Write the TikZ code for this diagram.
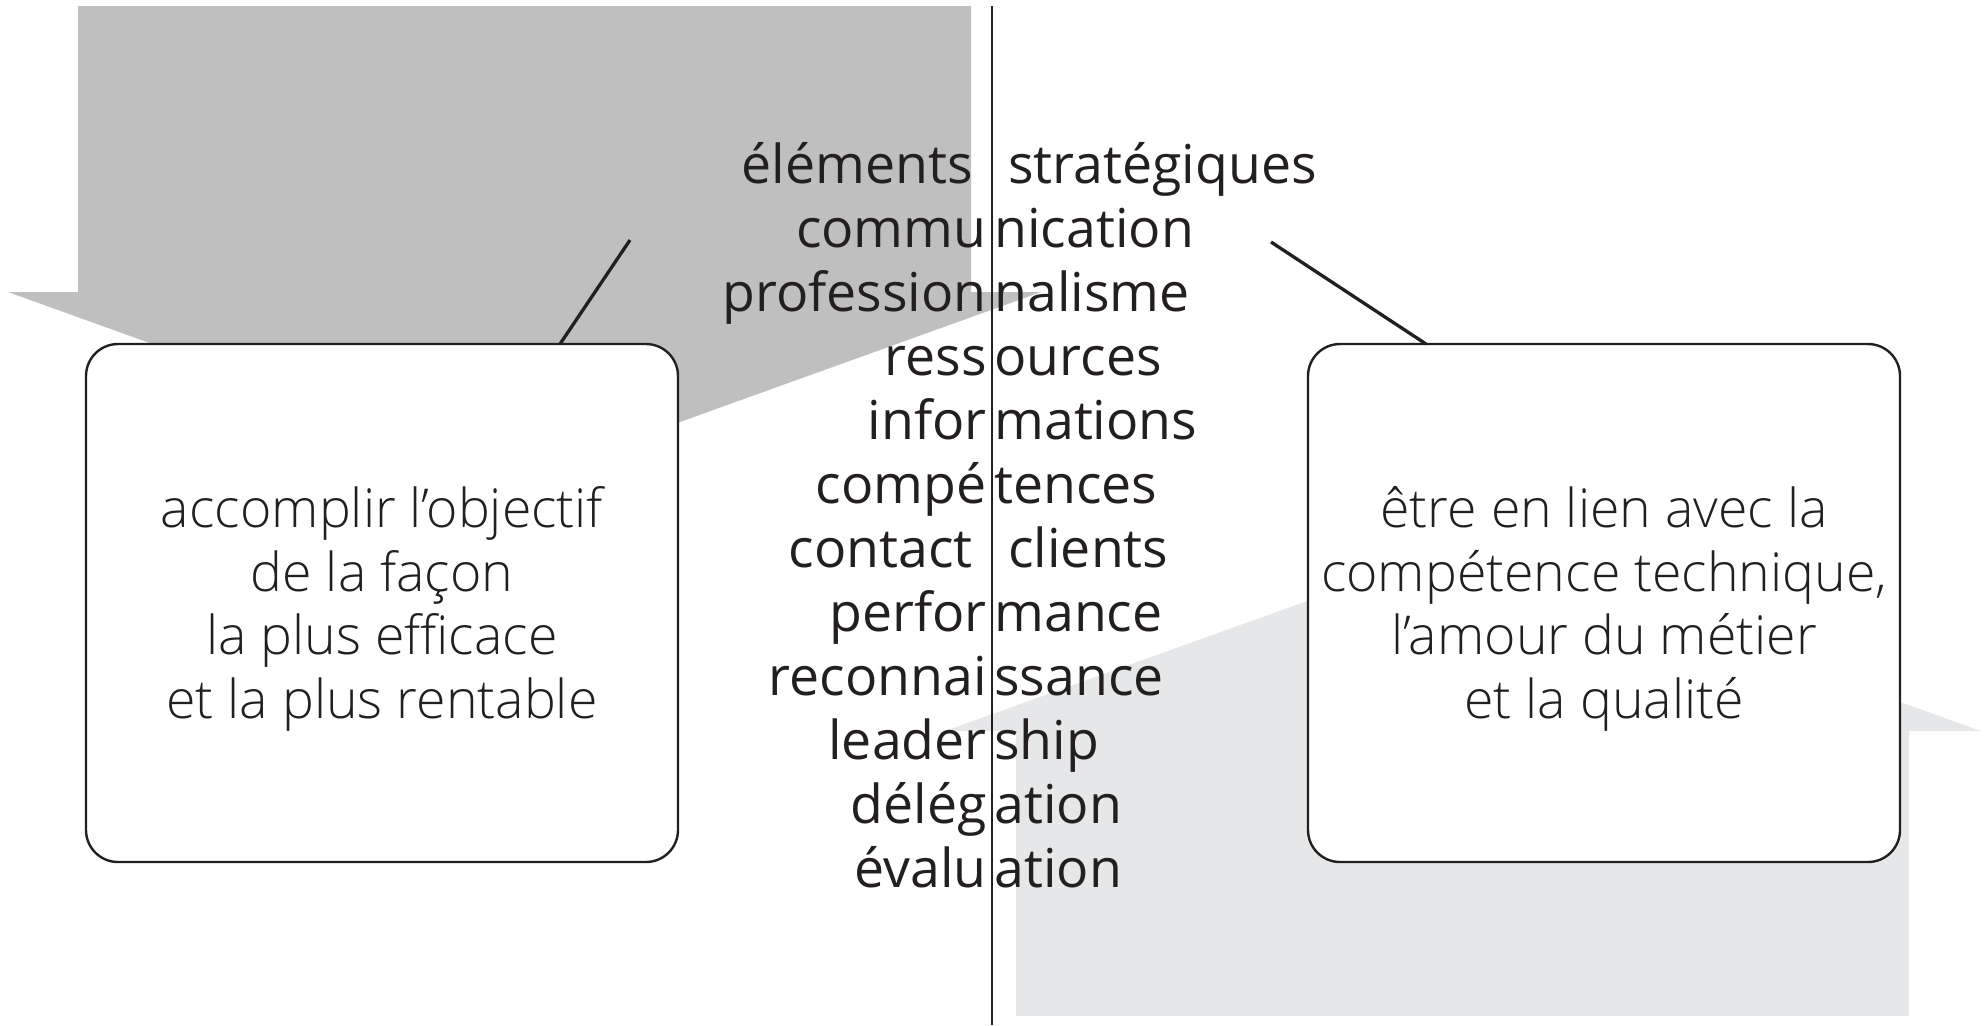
\documentclass[tikz,border=0pt]{standalone}
\usepackage{fontspec}
\setmainfont{Open Sans}
\newfontfamily\lightfont{Open Sans Light}
\definecolor{ink}{HTML}{231F20}
\definecolor{darkgrey}{HTML}{BFBFBF}
\definecolor{lightgrey}{HTML}{E6E7E8}
\begin{document}
\begin{tikzpicture}[x=0.5pt,y=-0.5pt,
  wordl/.style={anchor=base east,inner sep=0pt,text=ink,font=\fontsize{26.8}{32}\selectfont},
  wordr/.style={anchor=base west,inner sep=0pt,text=ink,font=\fontsize{26.8}{32}\selectfont},
  bigbox/.style={draw=ink,line width=1.2pt,rounded corners=16pt,fill=white,minimum width=296pt,minimum height=259pt,inner sep=0pt},
  boxtext/.style={align=center,inner sep=0pt,text=ink,font=\lightfont\fontsize{26.8}{31.8}\selectfont},
  connector/.style={draw=ink,line width=1.65pt},
  divider/.style={draw=ink,line width=0.6pt}]
\useasboundingbox (0,0) rectangle (1984,1025);
% big arrows
\fill[darkgrey] (78,6) -- (971,6) -- (971,292) -- (1041,292) -- (524.5,478) -- (8,292) -- (78,292) -- cycle;
\fill[lightgrey] (1016,1016) -- (1016,731) -- (945,731) -- (1463,545) -- (1981,731) -- (1909,731) -- (1909,1016) -- cycle;
% divider
\coordinate (vtop) at (992,6);
\coordinate (vbot) at (992,1025);
\draw[divider] (vtop) -- (vbot);
% boxes
\node[bigbox] (lbox) at (382,603) {};
\node[bigbox] (rbox) at (1604,603) {};
\node[boxtext] (ltext) at (382,609) {accomplir l’objectif\\de la façon\\la plus efficace\\et la plus rentable};
\node[boxtext] (rtext) at (1604,609) {être en lien avec la\\compétence technique,\\l’amour du métier\\et la qualité};
% connectors
\coordinate (lfree) at (630,240);
\coordinate (lfoot) at (560,344);
\coordinate (rfree) at (1271,242);
\coordinate (rfoot) at (1426,344);
\draw[connector] (lfoot) -- (lfree);
\draw[connector] (rfoot) -- (rfree);
% words
\foreach \i/\a/\b in {0/{éléments\kern0.26em}/{\kern0.26em stratégiques},1/commu/nication,2/profession/nalisme,3/ress/ources,4/infor/mations,5/compé/tences,6/{contact\kern0.26em}/{\kern0.26em clients},7/perfor/mance,8/reconnai/ssance,9/leader/ship,10/délég/ation,11/évalu/ation}{
  \node[wordl] (wl\i) at (987,183+64*\i) {\a};
  \node[wordr] (wr\i) at (994,183+64*\i) {\b};
}
\end{tikzpicture}
\end{document}
